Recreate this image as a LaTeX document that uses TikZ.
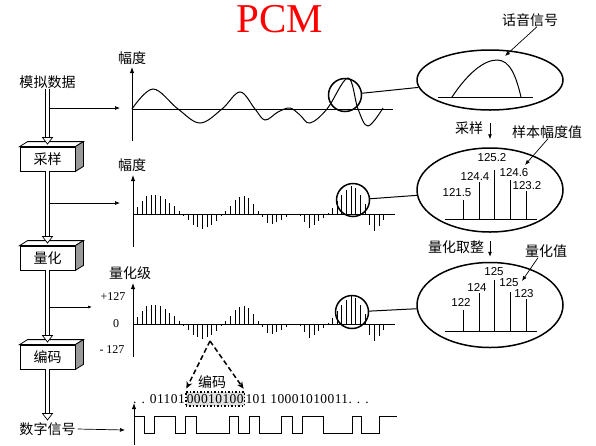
\documentclass[tikz,border=0pt]{standalone}
\usepackage{fontspec}
\setmainfont{Liberation Serif}
\newfontfamily\cjk{Noto Sans CJK SC}
\newfontfamily\sansnum{Liberation Sans}
\usetikzlibrary{arrows.meta,shapes.geometric,calc}
\newcommand{\dblarrow}[2]{%
  \draw[dbl, shorten >=5pt] (#1) -- (#2);
  \draw[line width=0.7pt, fill=white, line join=miter] (#2) -- ++(-5,-6.5) -- ++(10,0) -- cycle;}
\begin{document}
\begin{tikzpicture}[x=1pt,y=-1pt,
  cjkt/.style={font=\cjk\fontsize{14}{14}\selectfont, inner sep=0pt},
  num/.style={font=\sansnum\fontsize{11.5}{11.5}\selectfont, inner sep=0pt},
  ser/.style={font=\fontsize{12}{12}\selectfont, inner sep=0pt},
  bits/.style={font=\fontsize{13.5}{13.5}\selectfont\addfontfeature{LetterSpace=3}, inner sep=0pt},
  arr/.style={-{Latex[length=5pt,width=4pt]}, line width=0.7pt},
  axis/.style={line width=1pt},
  axarr/.style={axis, -{Latex[length=6pt,width=4.5pt]}},
  stem/.style={line width=0.9pt},
  mag/.style={draw, line width=1.5pt, circle, minimum size=33pt, inner sep=0pt},
  big/.style={draw, line width=1.5pt, ellipse, minimum width=146pt, inner sep=0pt},
  frontbox/.style={draw, line width=0.8pt, fill=white, minimum width=55pt, minimum height=24pt, inner sep=0pt, font=\cjk\fontsize{14}{14}\selectfont},
  dbl/.style={double, double distance=3pt, line width=0.7pt},
  dash arr/.style={line width=1.5pt, dash pattern=on 5pt off 3pt, -{Stealth[length=7pt,width=6pt]}},
]
\useasboundingbox (0,0) rectangle (596,445);

% title
\node[font=\fontsize{41}{41}\selectfont, text=red, inner sep=0pt] (title) at (280,19) {PCM};

% left column
\node[cjkt] (m) at (47.5,82) {模拟数据};
\node[frontbox] (b1) at (47.5,159) {采样};
\node[frontbox] (b2) at (47.5,258) {量化};
\node[frontbox] (b3) at (47.5,357) {编码};
\node[cjkt] (d) at (47.5,429) {数字信号};
\foreach \b in {b1,b2,b3}{
  \draw[line width=0.8pt, fill=white] (\b.north west) -- ++(8,-5) -- ([shift={(8,-5)}]\b.north east) -- (\b.north east) -- cycle;
  \draw[line width=0.8pt, fill=gray!80] (\b.north east) -- ++(8,-5) -- ([shift={(8,-5)}]\b.south east) -- (\b.south east) -- cycle;
}
\coordinate (t1) at (47.5,144);
\coordinate (t2) at (47.5,243);
\coordinate (t3) at (47.5,342);
\coordinate (t4) at (47.5,420);
\dblarrow{m.south}{t1}
\dblarrow{b1.south}{t2}
\dblarrow{b2.south}{t3}
\dblarrow{b3.south}{t4}

% branch arrows
\coordinate (s1) at (49.6,108);  \coordinate (g1) at (120,108);
\coordinate (s2) at (49.6,203);  \coordinate (g2) at (120,203);
\coordinate (s3) at (49.6,307);  \coordinate (g3) at (92,307);
\coordinate (g4) at (125,430);
\draw[arr] (s1) -- (g1);
\draw[arr] (s2) -- (g2);
\draw[line width=0.6pt, -{Latex[length=4pt,width=3pt]}] (s3) -- (g3);
\draw[arr] (d.east) ++(2,0) -- (g4);

% graph 1
\node[cjkt] (y1) at (132,58) {幅度};
\coordinate (o1) at (132,109);
\draw[axarr] (132,141) -- (132,67);
\draw[axis] (o1) -- (393,109);
\draw[line width=1pt] plot[smooth, tension=0.6] coordinates {(132,109) (153,89) (178,109) (200,123) (222,109) (240,92) (255,109) (265,120) (278,112) (290,108) (300,115) (310,123) (327,109) (348,78) (358,109) (368,126) (383,108)};

\def\stems{137.3/7, 142/12.7, 146.6/18, 151.3/19, 155.9/19, 160.6/18, 165.2/15, 169.9/11, 174.5/7.7, 179.2/2.7, 183.8/-2.3, 188.5/-6.3, 193.1/-10.7, 197.8/-13.3, 202.4/-14.7, 207.1/-13, 211.7/-10.7, 216.4/-7.3, 221/-1.7, 225.7/2.7, 230.3/8.3, 235/13.7, 239.6/17, 244.3/18.3, 248.9/16, 253.6/10, 258.2/3.3, 262.9/-3.3, 267.5/-9, 272.2/-10, 276.8/-8.3, 281.5/-5.7, 286.1/-3, 295.4/-1, 300.1/-2.3, 304.7/-8.3, 309.4/-14, 314/-11.3, 318.7/-7.3, 323.3/-4, 328/1, 332.6/6, 337.3/12.7, 341.9/19.3, 346.6/24.3, 351.2/27.7, 355.9/26, 360.5/19.3, 365.2/10, 369.8/-10.7, 374.5/-17.3, 379.1/-11.7, 383.8/-5.7}

% graph 2
\node[cjkt] (y2) at (132,165) {幅度};
\draw[axarr] (133,247) -- (133,175);
\draw[axis] (133,214) -- (395,214);
\foreach \x/\a in \stems { \draw[stem] (\x,214) -- (\x,{214-(\a)}); }

% graph 3
\node[cjkt] (y3) at (130,273) {量化级};
\node[ser] (p127) at (113,297) {+127};
\node[ser] (z0) at (116,324) {0};
\node[ser] (m127) at (112,350) {- 127};
\draw[axarr] (133,357) -- (133,283);
\draw[axis] (133,324) -- (395,324);
\foreach \x/\a in \stems { \draw[stem] (\x,324) -- (\x,{324-(\a)}); }

% magnifier circles and ellipses
\node[mag] (c1) at (345,95) {};
\node[mag] (c2) at (353,200) {};
\node[mag] (c3) at (352,312) {};
\node[big, minimum height=60pt] (e1) at (490,80) {};
\node[big, minimum height=84pt] (e2) at (490,190) {};
\node[big, minimum height=85pt] (e3) at (490,305) {};
\draw[line width=1pt] (c1) -- (e1);
\draw[line width=1pt] (c2) -- (e2);
\draw[line width=1pt] (c3) -- (e3);

% ellipse 1 content
\draw[line width=1pt] (438,97) -- (533,97);
\draw[line width=1pt] (452,97) .. controls (468,73) and (484,60) .. (497,60) .. controls (510,60) and (516,76) .. (521,97);
\node[cjkt] (l1) at (530,20) {话音信号};
\coordinate (p1) at (505,56);
\draw[arr] ([xshift=7pt]l1.south) -- (p1);

% between ellipses
\draw[arr, shorten <=12pt, shorten >=8pt] (e1.south) -- (e2.north);
\node[cjkt] (ls) at (469,128) {采样};
\node[cjkt] (l2) at (547,132) {样本幅度值};
\coordinate (p2) at (525,165);
\draw[arr] ([xshift=1pt]l2.south) -- (p2);

% ellipse 2 content
\draw[line width=1pt] (445,219) -- (537,219);
\foreach \x/\t in {463/200, 479/182, 494/170, 510/180, 526/191} { \draw[line width=1pt] (\x,219) -- (\x,\t); }
\node[num] (n1) at (457,193) {121.5};
\node[num] (n2) at (475,176) {124.4};
\node[num] (n3) at (492,158) {125.2};
\node[num] (n4) at (514,173) {124.6};
\node[num] (n5) at (527,186) {123.2};

\draw[arr, shorten <=8pt, shorten >=5pt] (e2.south) -- (e3.north);
\node[cjkt] (lq) at (456,247) {量化取整};
\node[cjkt] (l3) at (546,251) {量化值};
\coordinate (p3) at (522,281);
\draw[arr] ([xshift=-8pt]l3.south) -- (p3);

% ellipse 3 content
\draw[line width=1pt] (445,331) -- (537,331);
\foreach \x/\t in {463/310, 479/293, 494/280, 510/292, 526/299} { \draw[line width=1pt] (\x,331) -- (\x,\t); }
\node[num] (q1) at (461,302) {122};
\node[num] (q2) at (477,287) {124};
\node[num] (q3) at (494,272) {125};
\node[num] (q4) at (509,283) {125};
\node[num] (q5) at (524,294) {123};

% coding
\node[bits, anchor=east] (bl) at (185,399) {. . 01101};
\node[bits, anchor=west, draw, dotted, line width=1.5pt, fill=gray!25, minimum height=14pt, inner sep=1pt] (bb) at (185,399) {00010100};
\node[bits, anchor=west] (br) at (bb.east) {101 10001010011. . .};
\coordinate (ap) at (210,341);
\draw[dash arr, shorten >=3pt] (ap) -- (bb.north west);
\draw[dash arr, shorten >=3pt] (ap) -- (bb.north east);
\node[cjkt] (lc) at (212,382) {编码};

% digital signal
\draw[axarr] (134,445) -- (134,403);
\draw[line width=1pt] (134,416) -- (144,416) -- (144,433) -- (154,433) -- (154,416) -- (175,416) -- (175,433) -- (185,433) -- (185,416) -- (196,416) -- (196,433) -- (229,433) -- (229,416) -- (238,416) -- (238,433) -- (249,433) -- (249,416) -- (259,416) -- (259,433) -- (281,433) -- (281,416) -- (292,416) -- (292,433) -- (302,433) -- (302,416) -- (323,416) -- (323,433) -- (352,433) -- (352,416) -- (361,416) -- (361,433) -- (379,433) -- (379,416) -- (397,416);
\end{tikzpicture}
\end{document}
